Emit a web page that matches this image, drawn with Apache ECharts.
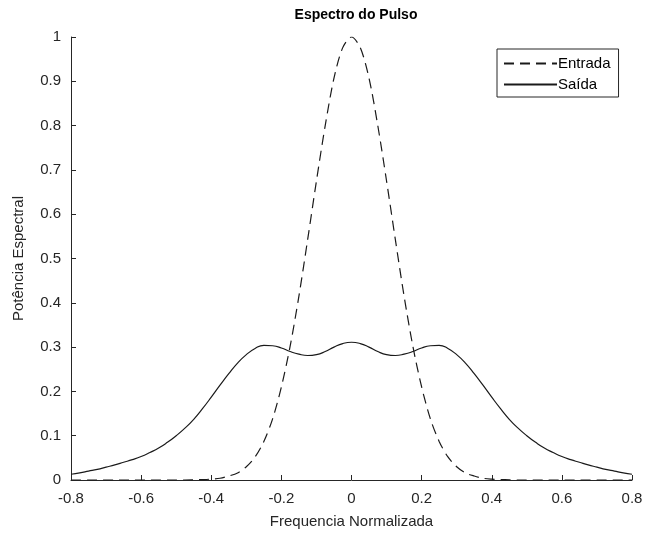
<!DOCTYPE html>
<html>
<head>
<meta charset="utf-8">
<title>Espectro do Pulso</title>
<script src="https://cdn.jsdelivr.net/npm/echarts@6/dist/echarts.min.js"></script>
<style>
  html, body { margin: 0; padding: 0; background: #ffffff; }
  #chart { width: 646px; height: 535px; }
</style>
</head>
<body>
<div id="chart"></div>
<script>
// Normalized frequency samples shared by both spectra (uniform 0.025 step)
const freq = [
  -0.8, -0.775, -0.75, -0.725, -0.7, -0.675, -0.65, -0.625,
  -0.6, -0.575, -0.55, -0.525, -0.5, -0.475, -0.45, -0.425,
  -0.4, -0.375, -0.35, -0.325, -0.3, -0.275, -0.25, -0.225,
  -0.2, -0.175, -0.15, -0.125, -0.1, -0.075, -0.05, -0.025,
  0,
  0.025, 0.05, 0.075, 0.1, 0.125, 0.15, 0.175, 0.2,
  0.225, 0.25, 0.275, 0.3, 0.325, 0.35, 0.375, 0.4,
  0.425, 0.45, 0.475, 0.5, 0.525, 0.55, 0.575, 0.6,
  0.625, 0.65, 0.675, 0.7, 0.725, 0.75, 0.775, 0.8
];

// Input pulse spectral power (dashed)
const entrada = [
  0, 0, 0, 0, 0, 0, 0, 0,
  0, 0, 0, 0, 0, 0, 0.0004, 0.001,
  0.002, 0.004, 0.009, 0.016, 0.030, 0.052, 0.087, 0.138,
  0.21, 0.302, 0.415, 0.543, 0.675, 0.80, 0.907, 0.976,
  1.0,
  0.976, 0.907, 0.80, 0.675, 0.543, 0.415, 0.302, 0.21,
  0.138, 0.087, 0.052, 0.030, 0.016, 0.009, 0.004, 0.002,
  0.001, 0.0004, 0, 0, 0, 0, 0, 0,
  0, 0, 0, 0, 0, 0, 0, 0
];

// Output pulse spectral power (solid)
const saida = [
  0.013, 0.016, 0.020, 0.024, 0.029, 0.034, 0.040, 0.046,
  0.053, 0.062, 0.072, 0.085, 0.100, 0.117, 0.137, 0.161,
  0.187, 0.214, 0.240, 0.264, 0.283, 0.297, 0.304, 0.303,
  0.298, 0.290, 0.284, 0.281, 0.283, 0.290, 0.300, 0.308,
  0.311,
  0.308, 0.300, 0.290, 0.283, 0.281, 0.284, 0.290, 0.298,
  0.303, 0.304, 0.297, 0.283, 0.264, 0.240, 0.214, 0.187,
  0.161, 0.137, 0.117, 0.100, 0.085, 0.072, 0.062, 0.053,
  0.046, 0.040, 0.034, 0.029, 0.024, 0.020, 0.016, 0.013
];

const xTicks = { min: -0.8, max: 0.8, step: 0.2 };
const yTicks = { min: 0, max: 1, step: 0.1 };

const axisInk = '#262626';
const lineInk = '#1a1a1a';
const font = '"Liberation Sans", Arial, Helvetica, sans-serif';

const pairs = (ys) => freq.map((f, i) => [f, ys[i]]);

const chart = echarts.init(document.getElementById('chart'), null, { renderer: 'canvas' });

chart.setOption({
  backgroundColor: '#ffffff',
  animation: false,
  textStyle: { fontFamily: font },
  title: {
    text: 'Espectro do Pulso',
    left: 351,
    top: 3,
    textAlign: 'center',
    textStyle: { fontFamily: font, fontSize: 14, fontWeight: 'bold', color: '#000000' }
  },
  legend: {
    orient: 'vertical',
    left: 497,
    top: 49,
    padding: [7, 8, 5, 6],
    itemWidth: 53,
    itemHeight: 14,
    itemGap: 6,
    borderColor: axisInk,
    borderWidth: 1,
    backgroundColor: '#ffffff',
    itemStyle: { opacity: 0 },
    textStyle: { fontFamily: font, fontSize: 15, color: '#000000', padding: [0, 0, 0, -4] },
    data: ['Entrada', 'Saída']
  },
  grid: { left: 71, right: 14, top: 37, bottom: 55, containLabel: false },
  xAxis: {
    type: 'value',
    min: xTicks.min,
    max: xTicks.max,
    interval: xTicks.step,
    name: 'Frequencia Normalizada',
    nameLocation: 'middle',
    nameGap: 34,
    nameTextStyle: { fontFamily: font, fontSize: 15, color: axisInk },
    axisLine: { onZero: false, lineStyle: { color: axisInk, width: 1 } },
    axisTick: { inside: true, length: 5, lineStyle: { color: axisInk } },
    axisLabel: { fontFamily: font, fontSize: 15, color: axisInk, margin: 11 },
    splitLine: { show: false }
  },
  yAxis: {
    type: 'value',
    min: yTicks.min,
    max: yTicks.max,
    interval: yTicks.step,
    name: 'Potência Espectral',
    nameLocation: 'middle',
    nameGap: 45,
    nameTextStyle: { fontFamily: font, fontSize: 15, color: axisInk },
    axisLine: { show: true, onZero: false, lineStyle: { color: axisInk, width: 1 } },
    axisTick: { show: true, inside: true, length: 5, lineStyle: { color: axisInk } },
    axisLabel: { fontFamily: font, fontSize: 15, color: axisInk, margin: 10 },
    splitLine: { show: false }
  },
  series: [
    {
      name: 'Entrada',
      type: 'line',
      data: pairs(entrada),
      symbol: 'none',
      smooth: 0.3,
      z: 3,
      lineStyle: { color: lineInk, width: 1.2, type: [10, 6] },
      itemStyle: { color: 'rgba(0,0,0,0)' }
    },
    {
      name: 'Saída',
      type: 'line',
      data: pairs(saida),
      symbol: 'none',
      smooth: 0.5,
      z: 2,
      lineStyle: { color: lineInk, width: 1.2, type: 'solid' },
      itemStyle: { color: 'rgba(0,0,0,0)' }
    }
  ]
});
</script>
</body>
</html>
